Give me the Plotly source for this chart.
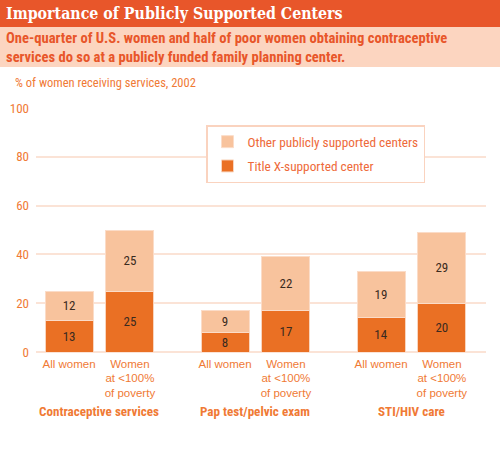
import plotly.graph_objects as go

groups = ["Contraceptive services", "Pap test/pelvic exam", "STI/HIV care"]
subgroups = ["All women", "Women<br>at <100%<br>of poverty"]
title_x = [13, 25, 8, 17, 14, 20]
other_public = [12, 25, 9, 22, 19, 29]

DARK = "#EA7024"
LIGHT = "#F8C39D"
TXT = "#F07A35"
NARROW = "Roboto Condensed, Liberation Sans Narrow, sans-serif"
WIDE = "Liberation Sans, Arial, sans-serif"

W, H = 500, 450
L, R, T, B = 36, 14, 108, 98

def py(p):
    # pixel row -> paper y
    return (H - B - p) / (H - T - B)

def px_(p):
    return (p - L) / (W - L - R)

# bar positions: two bars per group
xs = []
for g in range(len(groups)):
    for s in range(len(subgroups)):
        xs.append(g + (-0.195 if s == 0 else 0.195))
ticks = [subgroups[i % 2] for i in range(len(xs))]

fig = go.Figure()
fig.add_bar(x=xs, y=title_x, name="Title X-supported center", width=0.308,
            legendrank=2, legendgroup="tx",
            marker=dict(color=DARK, line=dict(color="#F9D5BE", width=1)),
            text=title_x, textposition="inside", insidetextanchor="middle",
            textangle=0, constraintext="none", hoverinfo="skip",
            textfont=dict(color="#3A2A20", size=13, family=NARROW))
fig.add_bar(x=xs, y=other_public, name="Other publicly supported centers", width=0.308,
            legendrank=1, legendgroup="op",
            marker=dict(color=LIGHT, line=dict(color="#FBDCC8", width=1)),
            text=other_public, textposition="inside", insidetextanchor="middle",
            textangle=0, constraintext="none", hoverinfo="skip",
            textfont=dict(color="#3A2A20", size=13, family=NARROW))

fig.update_layout(
    width=W, height=H, barmode="stack",
    margin=dict(l=L, r=R, t=T, b=B, autoexpand=False),
    plot_bgcolor="white", paper_bgcolor="white",
    font=dict(family=NARROW, color=TXT, size=13),
    showlegend=True,
    legend=dict(x=px_(206), y=py(125), xanchor="left", yanchor="top",
                traceorder="grouped", tracegroupgap=4, bgcolor="white",
                bordercolor="#FAD3BF", borderwidth=1.5,
                font=dict(size=13.3, color="#EE6A3A", family=NARROW)),
)
fig.update_xaxes(range=[-0.407, 2.478], tickvals=xs, ticktext=ticks, tickangle=0,
                 showgrid=False, zeroline=False, showline=False, ticks="",
                 automargin=False, ticklabelstandoff=3,
                 tickfont=dict(size=11.5, color=TXT, family=WIDE))
fig.update_yaxes(range=[0, 100], dtick=20, gridcolor="#FBE3D6", gridwidth=1.5,
                 zeroline=True, zerolinecolor="#FBE3D6", zerolinewidth=1.5,
                 automargin=False,
                 ticks="", tickfont=dict(size=13, color=TXT), ticklabelstandoff=6)

# header bands
fig.add_shape(type="rect", xref="paper", yref="paper", x0=px_(0), x1=px_(W),
              y0=py(27), y1=py(0), fillcolor="#E8562A", line_width=0, layer="below")
fig.add_shape(type="rect", xref="paper", yref="paper", x0=px_(0), x1=px_(W),
              y0=py(67), y1=py(27), fillcolor="#FCD5C0", line_width=0, layer="below")

fig.add_annotation(text="<b>Importance of Publicly Supported Centers</b>",
                   xref="paper", yref="paper", x=px_(4), y=py(14),
                   xanchor="left", yanchor="middle", showarrow=False,
                   font=dict(family="DejaVu Serif Condensed, DejaVu Serif", size=15.8, color="white"))
fig.add_annotation(text="<b>One-quarter of U.S. women and half of poor women obtaining contraceptive<br>"
                        "services do so at a publicly funded family planning center.</b>",
                   xref="paper", yref="paper", x=px_(4), y=py(47),
                   xanchor="left", yanchor="middle", align="left", showarrow=False,
                   font=dict(size=14.6, color="#E8562A"))
fig.add_annotation(text="% of women receiving services, 2002",
                   xref="paper", yref="paper", x=px_(13), y=py(83),
                   xanchor="left", yanchor="middle", showarrow=False,
                   font=dict(size=12.5, color=TXT))

for g, name in enumerate(groups):
    fig.add_annotation(text="<b>" + name + "</b>", xref="x", yref="paper",
                       x=g, y=py(411), xanchor="center", yanchor="middle",
                       showarrow=False, font=dict(size=13.1, color=TXT))

fig.write_html("out.html", config={"displayModeBar": False},
               post_script="document.body.style.margin='0';")
